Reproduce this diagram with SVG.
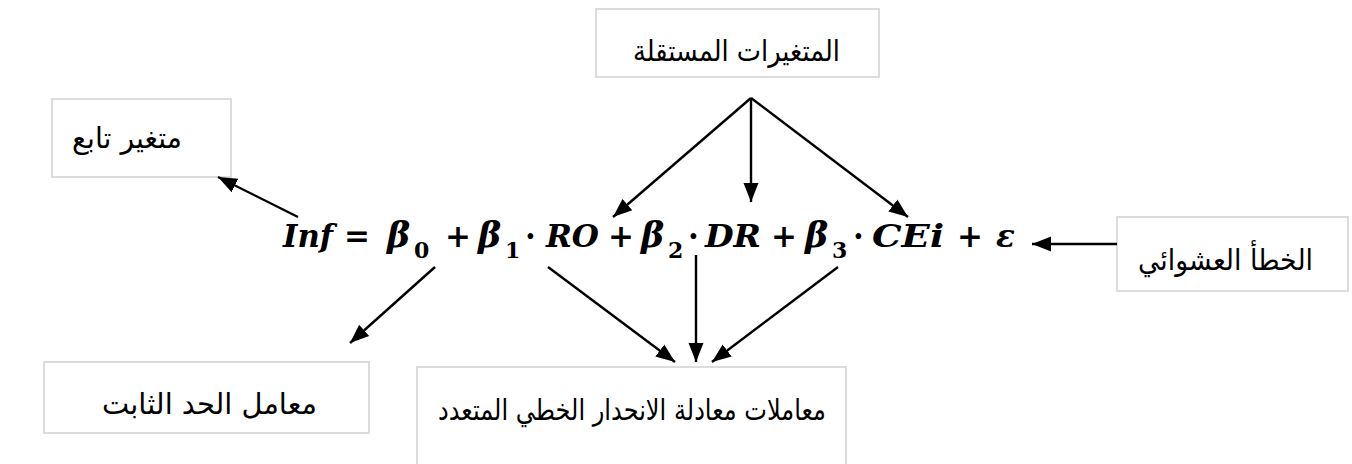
<svg xmlns="http://www.w3.org/2000/svg" width="1352" height="464" viewBox="0 0 1352 464">
<defs>
<style>
.box{fill:#fff;stroke:#dcdcdc;stroke-width:2}
.ar{font-family:"DejaVu Sans",sans-serif;font-size:29px;fill:#000}
.eq{font-family:"DejaVu Serif","Liberation Serif",serif;font-size:31px;font-weight:bold;font-style:italic;fill:#000}
.op{font-style:normal}
.b{font-size:35px}
.sub{font-style:normal;font-size:22px}
.cn{stroke:#000;stroke-width:2.4;fill:none;marker-end:url(#ah)}
</style>
<marker id="ah" markerUnits="userSpaceOnUse" markerWidth="20" markerHeight="18" viewBox="0 0 20 18" refX="19" refY="9" orient="auto">
<path d="M0,1.5 L19,9 L0,16.5 Z" fill="#000"/>
</marker>
</defs>
<rect width="1352" height="464" fill="#fff"/>
<g id="node-independent">
<rect class="box" x="596" y="9" width="283" height="68"/>
<text class="ar" x="633" y="61" textLength="207" lengthAdjust="spacingAndGlyphs">المتغيرات المستقلة</text>
</g>
<g id="node-dependent">
<rect class="box" x="52" y="99" width="179" height="78"/>
<text class="ar" x="72" y="148" textLength="110" lengthAdjust="spacingAndGlyphs">متغير تابع</text>
</g>
<g id="node-error">
<rect class="box" x="1117" y="217" width="231" height="74"/>
<text class="ar" x="1138" y="270" textLength="175" lengthAdjust="spacingAndGlyphs">الخطأ العشوائي</text>
</g>
<g id="node-constant">
<rect class="box" x="44" y="362" width="325" height="71"/>
<text class="ar" x="102" y="414" textLength="215" lengthAdjust="spacingAndGlyphs">معامل الحد الثابت</text>
</g>
<g id="node-coefficients">
<rect class="box" x="417" y="367" width="429" height="110"/>
<text class="ar" x="438" y="420" textLength="388" lengthAdjust="spacingAndGlyphs">معاملات معادلة الانحدار الخطي المتعدد</text>
</g>
<g id="node-equation">
<text class="eq" y="247"><tspan x="283" textLength="50" lengthAdjust="spacingAndGlyphs">Inf</tspan><tspan class="op" x="344">=</tspan><tspan class="b" x="387">β</tspan><tspan class="sub" x="414" y="258">0</tspan><tspan class="op" x="445" y="247">+</tspan><tspan class="b" x="478">β</tspan><tspan class="sub" x="505" y="258">1</tspan><tspan class="op" x="525" y="247">·</tspan><tspan x="546" textLength="53" lengthAdjust="spacingAndGlyphs">RO</tspan><tspan class="op" x="608">+</tspan><tspan class="b" x="641">β</tspan><tspan class="sub" x="668" y="258">2</tspan><tspan class="op" x="688" y="247">·</tspan><tspan x="705" textLength="56" lengthAdjust="spacingAndGlyphs">DR</tspan><tspan class="op" x="771">+</tspan><tspan class="b" x="805">β</tspan><tspan class="sub" x="832" y="258">3</tspan><tspan class="op" x="853" y="247">·</tspan><tspan x="872" textLength="72" lengthAdjust="spacingAndGlyphs">CEi</tspan><tspan class="op" x="957">+</tspan><tspan x="996">ε</tspan></text>
</g>
<g id="connectors">
<line class="cn" x1="751" y1="98" x2="613" y2="217"/>
<line class="cn" x1="751" y1="98" x2="751" y2="202"/>
<line class="cn" x1="751" y1="98" x2="908" y2="217"/>
<line class="cn" x1="298" y1="217" x2="218" y2="177"/>
<line class="cn" x1="1117" y1="244" x2="1032" y2="244"/>
<line class="cn" x1="435" y1="267" x2="350" y2="343"/>
<line class="cn" x1="548" y1="267" x2="675" y2="362"/>
<line class="cn" x1="696" y1="255" x2="696" y2="362"/>
<line class="cn" x1="838" y1="267" x2="712" y2="362"/>
</g>
</svg>
